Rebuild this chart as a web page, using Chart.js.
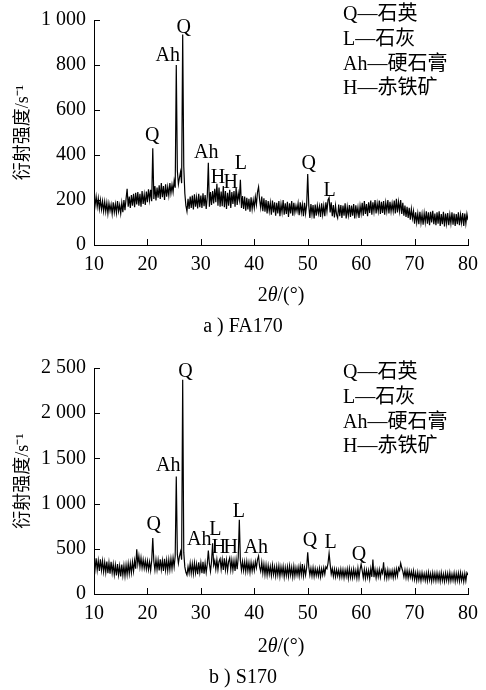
<!DOCTYPE html>
<html>
<head>
<meta charset="utf-8">
<script src="https://cdn.jsdelivr.net/npm/chart.js@4/dist/chart.umd.min.js"></script>
<style>
  html, body { margin: 0; padding: 0; background: #fff; }
  .panel { position: absolute; left: 0; width: 486px; height: 345px; }
</style>
</head>
<body>
<div class="panel" style="top:0"><canvas id="fa170" width="486" height="345"></canvas></div>
<div class="panel" style="top:345px"><canvas id="s170" width="486" height="345"></canvas></div>
<script>
// 2θ grid of the scan (degrees)
const thetaStart = 10;
const thetaStep = 0.2;

// FA170 intensity, s^-1, one value per 0.2°, 10° .. 80°
const fa170 = [
  222,176,215,170,208,160,200,158,195,150,
  192,148,188,140,185,152,180,138,190,145,
  182,142,195,150,178,140,188,146,200,155,
  205,250,170,215,165,222,175,228,168,232,
  180,235,175,228,170,240,182,225,178,238,
  190,248,200,245,195,430,205,262,198,255,
  210,265,205,275,212,262,200,270,215,258,
  220,275,230,268,235,285,255,800,330,270,
  300,325,275,935,350,230,175,150,205,160,
  215,165,220,158,225,170,212,162,228,168,
  220,165,230,172,222,160,215,365,170,235,
  178,240,185,250,190,272,175,255,170,238,
  172,262,168,240,160,232,175,245,165,235,
  182,240,170,255,178,230,200,290,165,218,
  160,215,152,210,158,205,148,212,160,200,
  165,215,180,235,258,200,165,215,150,208,
  148,200,140,195,150,188,135,198,145,190,
  130,188,140,195,128,182,145,200,135,185,
  138,192,125,185,140,195,130,188,145,175,
  150,185,132,190,145,180,128,188,140,178,
  315,175,120,182,135,178,118,180,130,175,
  140,172,125,185,135,175,128,190,150,200,
  210,145,190,128,178,122,175,135,120,180,
  128,178,120,175,130,185,118,170,132,178,
  125,175,130,182,118,176,135,168,120,175,
  140,188,130,195,138,182,128,190,142,198,
  135,190,148,200,140,185,150,198,138,192,
  142,195,135,188,150,200,140,192,148,185,
  150,198,140,205,145,192,150,200,138,188,
  130,175,125,170,120,165,112,160,118,150,
  95,145,100,140,92,148,98,138,90,142,
  100,150,95,145,88,148,100,152,92,140,
  88,145,95,150,85,138,92,148,82,140,
  95,142,88,135,96,145,90,140,85,138,
  92,145,88,135,98,142,85,140,95,138,
  110
];

// S170 intensity, s^-1, same grid
const s170 = [
  380,275,395,265,370,255,385,262,365,245,
  350,240,360,230,345,225,355,235,330,215,
  320,205,330,210,310,195,325,205,315,200,
  320,215,335,225,340,235,355,250,370,280,
  495,330,420,300,400,290,380,285,370,275,
  365,270,355,260,370,620,360,265,380,270,
  375,260,385,270,370,255,390,265,375,260,
  380,270,390,280,400,300,420,1300,440,340,
  420,470,380,2370,460,300,240,210,300,230,
  340,230,335,225,345,235,330,220,350,240,
  345,230,355,225,340,240,330,480,335,250,
  360,560,320,370,275,380,270,360,390,275,
  380,265,395,270,375,260,360,400,270,375,
  265,370,255,380,275,410,820,370,265,360,
  260,355,250,360,255,345,240,350,255,340,
  260,360,290,380,420,300,250,350,230,330,
  215,320,210,315,220,305,205,320,215,300,
  200,305,210,310,195,300,215,305,190,295,
  205,300,195,310,210,295,190,305,200,290,
  210,295,200,310,215,330,200,295,210,290,
  460,300,210,285,200,290,195,280,205,275,
  200,285,190,280,210,290,220,300,280,340,
  450,330,220,280,195,275,190,270,200,265,
  185,275,190,270,180,265,195,275,175,280,
  185,265,180,275,190,260,175,285,180,270,
  330,260,180,270,175,265,185,260,170,280,
  190,380,185,270,180,265,190,270,185,265,
  230,350,185,260,175,265,180,255,190,260,
  180,265,190,275,200,290,260,340,290,250,
  190,265,180,260,175,255,185,250,170,255,
  160,235,150,240,155,230,145,235,160,225,
  150,230,145,240,155,225,140,235,150,228,
  145,232,150,225,140,235,148,222,138,230,
  150,228,142,235,145,220,150,232,140,226,
  148,230,140,236,150,222,138,228,145,235,
  210
];

// axis ticks
const xTicks = [10, 20, 30, 40, 50, 60, 70, 80];
const faYTicks = [0, 200, 400, 600, 800, 1000];
const sYTicks = [0, 500, 1000, 1500, 2000, 2500];

// phase legend
const phaseSymbols = ['Q', 'L', 'Ah', 'H'];
const phaseNames = ['石英', '石灰', '硬石膏', '赤铁矿'];

// peak labels: text, 2θ, intensity where the label sits
const faPeakText = ['Q', 'Ah', 'Q', 'Ah', 'H', 'H', 'L', 'Q', 'L'];
const faPeakX    = [20.9, 23.8, 26.8, 31.0, 33.2, 35.6, 37.5, 50.2, 54.1];
const faPeakY    = [484, 840, 967, 409, 299, 277, 360, 360, 242];

const sPeakText = ['Q', 'Ah', 'Q', 'Ah', 'L', 'H', 'H', 'L', 'Ah', 'Q', 'L', 'Q'];
const sPeakX    = [21.2, 23.9, 27.1, 29.7, 32.7, 33.4, 35.6, 37.1, 40.3, 50.4, 54.3, 59.6];
const sPeakY    = [763, 1416, 2456, 597, 708, 509, 509, 907, 509, 586, 564, 431];

const SERIF = "'Liberation Serif', 'Noto Sans CJK SC', serif";

const xrdDecor = {
  id: 'xrdDecor',
  afterDraw(chart, args, opts) {
    const ctx = chart.ctx;
    const xs = chart.scales.x;
    const ys = chart.scales.y;
    const area = chart.chartArea;
    ctx.save();

    // inward tick marks
    ctx.strokeStyle = '#000';
    ctx.lineWidth = 1;
    ctx.beginPath();
    xs.ticks.forEach(t => {
      const px = Math.round(xs.getPixelForValue(t.value)) + 0.5;
      ctx.moveTo(px, area.bottom);
      ctx.lineTo(px, area.bottom - 6);
    });
    ys.ticks.forEach(t => {
      const py = Math.round(ys.getPixelForValue(t.value)) + 0.5;
      ctx.moveTo(area.left, py);
      ctx.lineTo(area.left + 6, py);
    });
    ctx.stroke();

    // peak labels
    ctx.fillStyle = '#000';
    ctx.font = '20px ' + SERIF;
    ctx.textAlign = 'center';
    ctx.textBaseline = 'middle';
    opts.peakText.forEach((txt, i) => {
      ctx.fillText(txt, xs.getPixelForValue(opts.peakX[i]), ys.getPixelForValue(opts.peakY[i]));
    });

    // phase legend
    ctx.textAlign = 'left';
    phaseSymbols.forEach((s, i) => {
      ctx.fillText(s + '—' + phaseNames[i], 343, opts.legendTop + i * 24.7);
    });

    // x axis title 2θ/(°)
    const cx = (area.left + area.right) / 2;
    const ty = area.bottom + opts.xTitleGap;
    const parts = [['2', '20px ' + SERIF], ['θ', 'italic 20px ' + SERIF], ['/(°)', '20px ' + SERIF]];
    let total = 0;
    parts.forEach(p => { ctx.font = p[1]; total += ctx.measureText(p[0]).width; });
    let x = cx - total / 2;
    parts.forEach(p => { ctx.font = p[1]; ctx.fillText(p[0], x, ty); x += ctx.measureText(p[0]).width; });

    // panel caption
    ctx.font = '20px ' + SERIF;
    ctx.textAlign = 'center';
    ctx.fillText(opts.caption, chart.width / 2, chart.height - opts.captionGap);

    ctx.restore();
  }
};

function makeChart(id, values, yTicks, pad, decor) {
  const points = values.map((v, i) => ({ x: thetaStart + i * thetaStep, y: v }));
  return new Chart(document.getElementById(id), {
    type: 'line',
    data: {
      datasets: [{
        data: points,
        borderColor: '#000',
        borderWidth: 1.2,
        pointRadius: 0,
        tension: 0,
        fill: false
      }]
    },
    options: {
      responsive: false,
      devicePixelRatio: 1,
      animation: false,
      events: [],
      layout: { padding: pad },
      scales: {
        x: {
          type: 'linear',
          min: 10,
          max: 80,
          afterBuildTicks: s => { s.ticks = xTicks.map(v => ({ value: v })); },
          afterFit: s => { s.height = 30; },
          grid: { drawOnChartArea: false, drawTicks: false },
          border: { color: '#000', width: 1 },
          ticks: { color: '#000', padding: 8, maxRotation: 0, font: { family: SERIF, size: 20 } }
        },
        y: {
          min: yTicks[0],
          max: yTicks[yTicks.length - 1],
          afterBuildTicks: s => { s.ticks = yTicks.map(v => ({ value: v })); },
          afterFit: s => { s.width = 94; },
          grid: { drawOnChartArea: false, drawTicks: false },
          border: { color: '#000', width: 1 },
          ticks: {
            color: '#000',
            padding: 8,
            font: { family: SERIF, size: 20 },
            callback: v => v >= 1000 ? Math.floor(v / 1000) + ' ' + String(v % 1000).padStart(3, '0') : String(v)
          },
          title: {
            display: true,
            text: '衍射强度/s⁻¹',
            color: '#000',
            padding: { top: 12, bottom: 0 },
            font: { family: SERIF, size: 18 }
          }
        }
      },
      plugins: {
        legend: { display: false },
        tooltip: { enabled: false },
        xrdDecor: decor
      }
    },
    plugins: [xrdDecor]
  });
}

makeChart('fa170', fa170, faYTicks,
  { top: 17.5, right: 13, bottom: 70, left: 0 },
  { peakText: faPeakText, peakX: faPeakX, peakY: faPeakY, legendTop: 15, xTitleGap: 51, caption: 'a ) FA170', captionGap: 18 });

makeChart('s170', s170, sYTicks,
  { top: 23, right: 13, bottom: 66, left: 0 },
  { peakText: sPeakText, peakX: sPeakX, peakY: sPeakY, legendTop: 28, xTitleGap: 53, caption: 'b ) S170', captionGap: 12 });
</script>
</body>
</html>
